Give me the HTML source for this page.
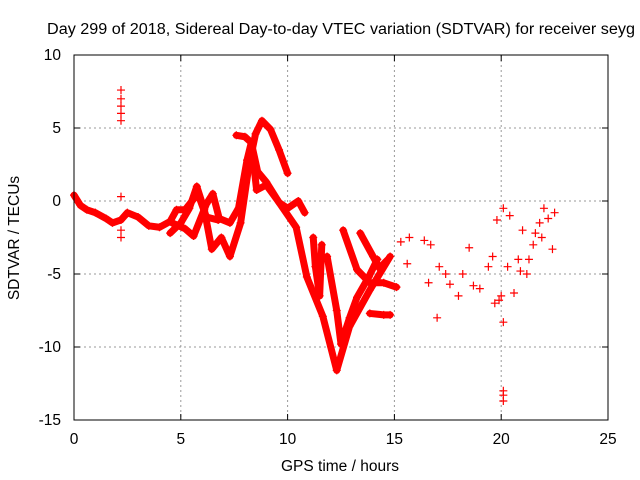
<!DOCTYPE html>
<html><head><meta charset="utf-8"><style>
body{margin:0;background:#fff}
svg{display:block;font-family:"Liberation Sans",sans-serif}
</style></head><body>
<svg id="chart" width="640" height="480">
<text x="47" y="34" font-size="15.5" textLength="588" lengthAdjust="spacingAndGlyphs">Day 299 of 2018, Sidereal Day-to-day VTEC variation (SDTVAR) for receiver seyg</text>
<g id="grid"></g><g id="ticks"></g><g id="marks"></g>
<rect x="74" y="55" width="534" height="365" fill="none" stroke="#000" stroke-width="1"/>
<text x="340" y="471" font-size="15.5" text-anchor="middle">GPS time / hours</text>
<text transform="translate(19,238) rotate(-90)" font-size="15.5" text-anchor="middle">SDTVAR / TECUs</text>
</svg>
<script>
const xTicks=[0,5,10,15,20,25];
const yTicks=[10,5,0,-5,-10,-15];
const trackA=[[0,0.4],[0.3,-0.3],[0.6,-0.6],[1.0,-0.8],[1.5,-1.2],[1.8,-1.5],[2.2,-1.3],[2.5,-0.8],[3.0,-1.1],[3.5,-1.7],[4.0,-1.8],[4.5,-1.4],[4.8,-0.6],[5.2,-0.6],[5.8,0.5],[6.2,-1.1],[6.75,-1.3]];
const trackB=[[4.5,-2.2],[5.0,-1.5],[5.4,-0.5],[5.75,1.0],[6.1,-0.6],[6.45,-3.3],[6.9,-2.5],[7.3,-3.8],[7.8,-1.5],[8.2,2.5],[8.5,4.6],[8.8,5.5],[9.2,4.9],[9.6,3.5],[10.0,1.9]];
const trackC=[[4.6,-1.5],[5.2,-1.9],[5.6,-2.4],[6.2,-0.2],[6.5,0.5],[6.8,-1.2],[7.3,-1.5],[7.7,-0.5],[8.1,2.8],[8.3,4.0],[8.55,0.75],[9.0,1.1],[9.6,-0.1],[10.0,-0.5],[10.5,0.0],[10.8,-0.8]];
const trackD=[[7.6,4.5],[8.0,4.4],[8.3,4.0],[8.6,2.0],[9.0,1.3],[9.6,-0.1],[10.4,-1.8],[10.9,-5.2],[11.65,-7.9],[12.3,-11.6],[12.9,-8.6],[13.85,-6.1],[14.8,-3.8]];
const trackE=[[11.85,-3.8],[12.3,-7.5],[12.5,-9.8],[12.9,-8.0],[13.25,-6.6],[13.8,-5.2],[14.2,-4.0]];
const trackF=[[12.6,-2.0],[13.25,-4.7],[13.85,-5.6],[14.5,-5.6],[15.1,-5.9]];
const trackG=[[13.4,-2.2],[14.0,-3.8],[14.3,-4.6],[14.7,-4.0]];
const trackH=[[13.85,-7.7],[14.5,-7.8],[14.8,-7.8]];
const trackI=[[11.2,-2.5],[11.3,-4.5],[11.5,-6.5],[11.6,-3.0]];
const scatterX=[2.2,2.2,2.2,2.2,2.2,2.2,2.2,2.2,15.3,15.6,15.7,16.4,16.6,16.7,17.0,17.1,17.4,17.6,18.0,18.2,18.5,18.7,19.0,19.4,19.6,19.7,19.8,20.0,20.1,20.1,20.1,20.1,20.1,20.3,20.4,20.6,20.8,21.0,21.2,21.5,21.8,22.0,22.2,22.4,22.5,21.3,21.6,21.9,20.9,19.9];
const scatterY=[5.5,6.0,6.5,7.0,7.6,-2.0,-2.5,0.3,-2.8,-4.3,-2.5,-2.7,-5.6,-3.0,-8.0,-4.5,-5.0,-5.7,-6.5,-5.0,-3.2,-5.8,-6.0,-4.5,-3.8,-7.0,-1.3,-6.5,-8.3,-13.0,-13.3,-13.7,-0.5,-4.5,-1.0,-6.3,-4.0,-2.0,-5.0,-3.0,-1.5,-0.5,-1.2,-3.3,-0.8,-4.0,-2.2,-2.5,-4.8,-6.8];
const NS='http://www.w3.org/2000/svg';
const X0=74,X1=608,Y0=55,Y1=420;
const sx=h=>X0+(h-0)/25*(X1-X0);
const sy=v=>Y0+(10-v)/25*(Y1-Y0);
function mk(t,a,p){const e=document.createElementNS(NS,t);for(const k in a)e.setAttribute(k,a[k]);p.appendChild(e);return e;}
const grid=document.getElementById('grid'),ticks=document.getElementById('ticks'),marks=document.getElementById('marks');
xTicks.forEach(t=>{const x=sx(t);
 if(t>0&&t<25){const g=mk('line',{x1:x,x2:x,y1:Y0,y2:Y1,stroke:'#999','stroke-dasharray':'2,3'},grid);
 
 }
 mk('line',{x1:x,x2:x,y1:Y1,y2:Y1-6,stroke:'#000'},ticks);mk('line',{x1:x,x2:x,y1:Y0,y2:Y0+6,stroke:'#000'},ticks);
 const l=mk('text',{x:x,y:Y1+24,'font-size':'15.5','text-anchor':'middle'},ticks);l.textContent=t;
 
 });
yTicks.forEach(t=>{const y=sy(t);
 if(t<10&&t>-15){const g=mk('line',{x1:X0,x2:X1,y1:y,y2:y,stroke:'#999','stroke-dasharray':'2,3'},grid);
 
 }
 mk('line',{x1:X0,x2:X0+6,y1:y,y2:y,stroke:'#000'},ticks);mk('line',{x1:X1,x2:X1-6,y1:y,y2:y,stroke:'#000'},ticks);
 const l=mk('text',{x:X0-13,y:y+5,'font-size':'15.5','text-anchor':'end'},ticks);l.textContent=t;
 
 });
function plus(x,y,n){const p=mk('path',{d:`M${x-4},${y}h8M${x},${y-4}v8`,stroke:'#f00','stroke-width':1.2},marks);
 
 }
[trackA,trackB,trackC,trackD,trackE,trackF,trackG,trackH,trackI].forEach((tr,i)=>{
 const pl=mk('polyline',{points:tr.map(p=>sx(p[0])+','+sy(p[1])).join(' '),fill:'none',stroke:'#f00','stroke-width':7,'stroke-linejoin':'round','stroke-linecap':'round'},marks);
 
 
 tr.forEach(p=>plus(sx(p[0]),sy(p[1]),'sdtvar-point'));});
scatterX.forEach((h,i)=>plus(sx(h),sy(scatterY[i]),'sdtvar-point'));
</script>
</body></html>
